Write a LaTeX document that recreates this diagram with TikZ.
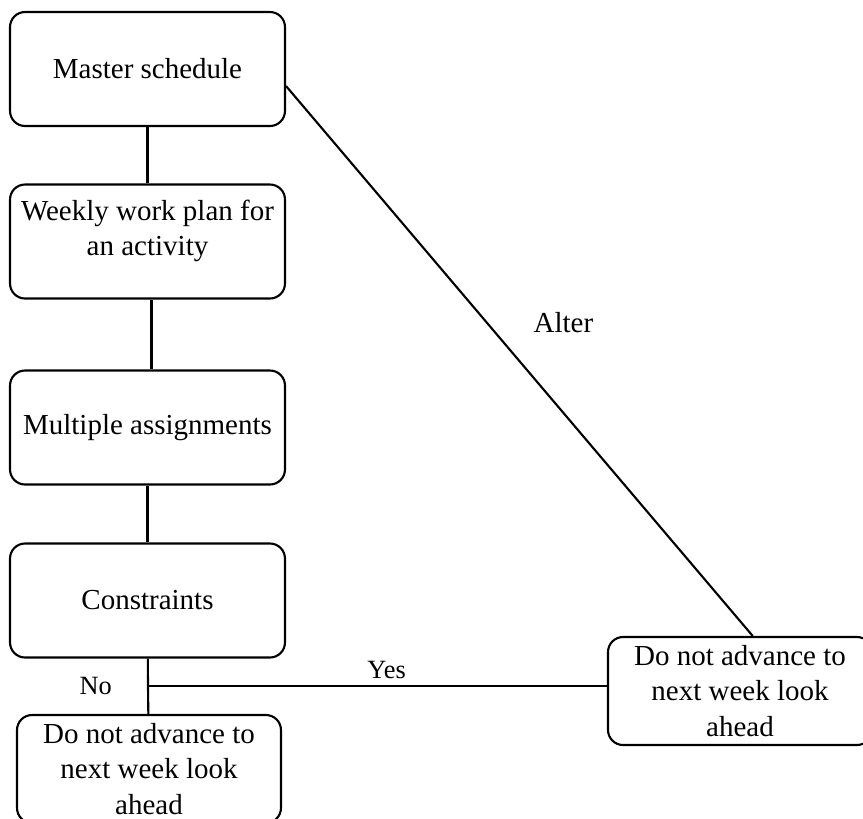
\documentclass[tikz,border=0pt]{standalone}
\usepackage{fontspec}
\setmainfont{Liberation Serif}
\usetikzlibrary{positioning}
\tikzset{
  stage/.style={draw, rounded corners=0.3cm, line width=1.2pt, minimum width=5.5cm, minimum height=2.28cm,
                align=center, inner sep=2pt, font=\fontsize{16.5}{20}\selectfont},
  outcome/.style={stage, minimum width=5.28cm, minimum height=2.16cm},
  link/.style={line width=1.2pt},
  tag/.style={font=\fontsize{15}{18}\selectfont}
}
\begin{document}
\begin{tikzpicture}[x=0.02cm, y=-0.02cm] % one unit = one pixel of the sketch
    \useasboundingbox (0,0) rectangle (863,819);

    % Planning column
    \node[stage] (master) at (147.5,69) {Master schedule};
    \node[stage] (weekly) at (147.5,241.5) {Weekly work plan for\\an activity\\[-4.5pt]\mbox{}};
    \node[stage] (multi)  at (147.5,427.5) {Multiple assignments};
    \node[stage] (constr) at (147.5,600.5) {Constraints};

    % Outcomes
    \node[outcome] (stay)    at (149,769) {Do not advance to\\next week look\\ahead};
    \node[outcome] (advance) at (740,691) {Do not advance to\\next week look\\ahead};

    % Connectors down the column
    \draw[link] (master) -- (weekly);
    \draw[link] ([xshift=0.08cm]weekly.south) -- ([xshift=0.08cm]multi.north);
    \draw[link] (multi) -- (constr);

    % Decision split below the constraints
    \coordinate (split) at (148,686);
    \node[tag, left=0.6cm of split] (no) {No};
    \draw[link] (constr) -- (split) -- (stay);
    \draw[link] (split) -- (split -| advance.west) node[pos=0.52, above, tag] {Yes};

    % Feedback to the master schedule
    \draw[link] (master.-7) -- (advance.77)
        node[pos=0.43, right=0.8cm, font=\fontsize{16.5}{20}\selectfont] {Alter};
\end{tikzpicture}
\end{document}
